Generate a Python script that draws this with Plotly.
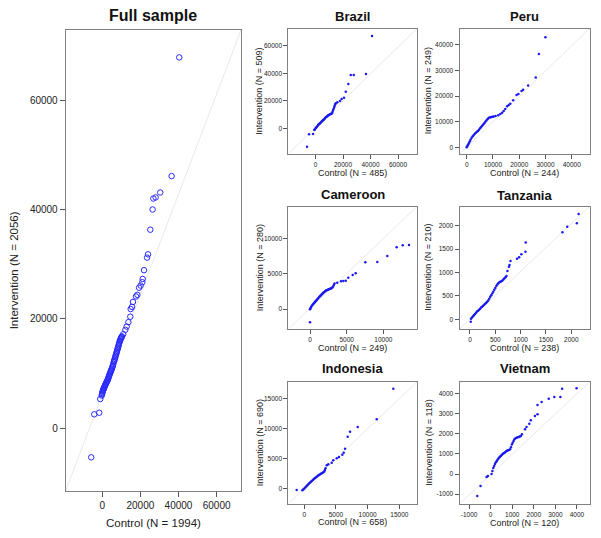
import plotly.graph_objects as go

FONT = "Liberation Sans, Arial, sans-serif"

# ---------------- data (quantile pairs) ----------------
full_ctrl = [-5800, -4200, -1600, -1050,
             -300, -150, 0, 150, 300, 450, 600, 750, 900, 1075, 1250, 1425, 1600,
             1800, 2000, 2200, 2400, 2600, 2800, 3000, 3200, 3400, 3600, 3800, 4000, 4200, 4400,
             4600, 4800, 5000, 5200, 5400, 5600, 5800, 6000, 6200, 6400, 6600, 6800, 7000, 7200,
             7400, 7600, 7800, 8000, 8200, 8400, 8600, 8800, 9000, 9200, 9400, 9600, 9800, 10000,
             10150, 10300,
             11000, 12100, 12800, 13700, 14700, 14900, 15600, 16100, 17700, 18400, 19300, 20100,
             21000, 21200, 21900, 23500, 24000, 25200, 26400, 26800, 28000, 30400, 36400, 40400]
full_int = [-5300, 2560, 2850, 5360,
            6000, 6230, 6450, 6650, 6850, 6980, 7100, 7250, 7400, 7520, 7650, 7800, 7950,
            8100, 8250, 8400, 8550, 8680, 8800, 9000, 9200, 9400, 9600, 9800, 10000, 10170, 10350,
            10520, 10700, 10900, 11100, 11300, 11500, 11800, 12100, 12300, 12500, 12750, 13000, 13250, 13500,
            13720, 13950, 14200, 14450, 14700, 14950, 15200, 15450, 15700, 15950, 16120, 16300, 16450, 16600,
            16700, 16800,
            17200, 18000, 18600, 19400, 20400, 21800, 22200, 23100, 24100, 24400, 25700, 26100,
            26700, 27300, 28900, 31200, 31800, 36300, 40000, 42000, 42200, 43100, 46100, 67800]

brazil_ctrl = [-6200, -4700, -1800, -900,
               -600, 0, 500, 1000, 1500, 2000, 2500, 3000, 3500, 4000, 4500, 5000, 5500, 6000, 6500,
               7000, 7500, 8000, 8500, 9000, 9500, 10000, 10500, 11000, 11500, 12000, 12400, 12800,
               13200, 13600, 14000, 14400, 14800,
               15900, 17800, 19000, 20700, 22000, 23900, 25600, 27800, 36700, 41100]
brazil_int = [-13400, -4400, -4100, -1200,
              -900, 0, 600, 1100, 1700, 2500, 3000, 3500, 3900, 4400, 5000, 5400, 5800, 6300, 6800,
              7500, 8000, 8400, 8800, 9300, 9500, 9800, 10100, 10400, 10600, 11000, 12000, 13200,
              14200, 15400, 16600, 17600, 18200,
              18900, 19800, 21300, 22200, 26600, 32200, 38700, 38700, 39400, 67000]

peru_ctrl = [0, 150, 350, 600, 900, 1200, 1500, 1900, 2300, 2700, 3100, 3500, 3900, 4300, 4700,
             5100, 5500, 5900, 6300, 6700, 7100, 7500, 7900, 8300, 8700, 9100, 9500, 9900, 10300,
             11000, 12000, 12800, 13500, 14100, 14700, 15400, 16000, 16600, 17700, 19000, 19700,
             20900, 21500, 23400, 26300, 27500, 30000]
peru_int = [0, 300, 700, 1200, 1800, 2400, 3000, 3700, 4300, 4800, 5300, 5700, 6100, 6400, 6900,
            7400, 7900, 8400, 8900, 9400, 10000, 10500, 11000, 11400, 11600, 11750, 11850, 11950, 12000,
            12200, 12500, 13000, 13500, 14200, 15000, 16000, 16500, 17000, 18400, 20400, 20800,
            22000, 22500, 24100, 27300, 36400, 43000]

cameroon_ctrl = [0,
                 0, 60, 150, 250, 350, 450, 550, 650, 750, 850, 950, 1050, 1150, 1250, 1350, 1450,
                 1550, 1650, 1750, 1850, 1950, 2050, 2150, 2250, 2350, 2450, 2550, 2650, 2750, 2850,
                 2950, 3050, 3150, 3250, 3350,
                 3720, 4230, 4540, 4870, 5220, 5820, 6230, 7540, 9180, 10540, 11820, 12640, 13500]
cameroon_int = [-1880,
                -50, 100, 300, 450, 600, 720, 840, 960, 1080, 1200, 1320, 1440, 1560, 1680, 1800, 1920,
                2020, 2120, 2220, 2320, 2420, 2500, 2580, 2650, 2700, 2740, 2780, 2820, 2860, 2900,
                2960, 3050, 3200, 3400, 3600,
                3720, 3920, 3960, 3980, 4430, 4810, 5050, 6600, 6650, 7500, 8730, 9010, 9050]

tanzania_ctrl = [15,
                 20, 40, 60, 80, 100, 120, 140, 160, 180, 200, 220, 240, 260, 280, 300, 320, 340,
                 360, 380, 400, 420, 440, 460, 480, 500, 520, 540, 560, 580, 600, 620, 640, 660, 680, 700,
                 720, 740, 770, 780, 800, 930, 970, 1015, 1095, 1100, 1825, 1920, 2110, 2145]
tanzania_int = [-50,
                10, 40, 65, 90, 115, 140, 165, 185, 205, 225, 250, 270, 290, 310, 335, 355, 375,
                400, 440, 480, 515, 550, 590, 630, 670, 710, 745, 770, 790, 800, 815, 830, 850, 875, 900,
                925, 1030, 1125, 1160, 1245, 1295, 1325, 1390, 1445, 1640, 1860, 1980, 2050, 2250]

indonesia_ctrl = [-1200,
                  -300, -150, 0, 150, 300, 450, 600, 750, 900, 1050, 1200, 1350, 1500, 1650, 1800,
                  1950, 2100, 2250, 2400, 2550, 2700, 2850, 3000, 3150, 3250, 3350,
                  3540, 3790, 4330, 4580, 5120, 5480, 6000, 6220, 6430, 6850, 7220, 8430, 11430, 14050]
indonesia_int = [-220,
                 -250, -100, 50, 200, 350, 520, 700, 850, 1000, 1150, 1300, 1450, 1600, 1750, 1880,
                 2000, 2120, 2230, 2330, 2430, 2530, 2620, 2720, 2850, 3100, 3400,
                 3900, 4070, 4330, 4730, 5070, 5280, 5670, 6000, 6670, 8670, 9500, 10280, 11570, 16670]

vietnam_ctrl = [-620, -470, -190, -130,
                40, 80, 120, 160, 200, 240, 280, 320, 360, 400, 440, 480, 520, 560, 600, 640, 680,
                720, 760, 800, 850, 900, 940, 980, 1020, 1060, 1100, 1150, 1200, 1250, 1300, 1350,
                1400, 1450,
                1590, 1660, 1790, 1860, 2050, 2170, 2170, 2360, 2690, 2950, 3230, 3310, 3980]
vietnam_int = [-1100, -600, -150, -100,
               0, 150, 300, 400, 500, 590, 650, 710, 770, 820, 870, 910, 960, 1000, 1030, 1060, 1100,
               1130, 1160, 1180, 1200, 1240, 1330, 1470, 1560, 1650, 1730, 1780, 1810, 1830, 1850,
               1870, 1900, 1980,
               2230, 2340, 2510, 2680, 2890, 2980, 3440, 3590, 3750, 3840, 3840, 4250, 4270]

titles = ["Full sample", "Brazil", "Peru", "Cameroon", "Tanzania", "Indonesia", "Vietnam"]
n_ctrl = [1994, 485, 244, 249, 238, 658, 120]
n_int = [2056, 509, 249, 280, 210, 690, 118]
ctrl_data = [full_ctrl, brazil_ctrl, peru_ctrl, cameroon_ctrl, tanzania_ctrl, indonesia_ctrl, vietnam_ctrl]
int_data = [full_int, brazil_int, peru_int, cameroon_int, tanzania_int, indonesia_int, vietnam_int]
x_ticks = [[0, 20000, 40000, 60000], [0, 20000, 40000, 60000], [0, 10000, 20000, 30000, 40000],
           [0, 5000, 10000], [0, 500, 1000, 1500, 2000], [0, 5000, 10000, 15000],
           [-1000, 0, 1000, 2000, 3000, 4000]]
y_ticks = [[0, 20000, 40000, 60000], [0, 20000, 40000, 60000], [0, 10000, 20000, 30000, 40000],
           [0, 5000, 10000], [0, 500, 1000, 1500, 2000], [0, 5000, 10000, 15000],
           [-1000, 0, 1000, 2000, 3000, 4000]]
x_ranges = [[-19200, 72800], [-19800, 73800], [-2740, 46780], [-2960, 14590],
            [-207, 2360], [-2526, 17790], [-1445, 4580]]
y_ranges = [[-11400, 72800], [-18700, 72500], [-2620, 46400], [-2830, 14500],
            [-207, 2410], [-2500, 17780], [-1480, 4586]]

# ---------------- layout geometry (pixels) ----------------
W, H = 601, 538
# (left, right, top, bottom) of each plot box
boxes = [(65.7, 241, 30, 490.7),
         (288.3, 417, 28.5, 154), (459.5, 589.5, 28.5, 154),
         (288.3, 417, 206.5, 329), (459.5, 589.5, 206.5, 329),
         (288.3, 417, 382, 503.7), (459.5, 589.5, 382, 503.7)]
title_y = [16, 16.7, 16.7, 194.5, 195.5, 368.5, 368.5]
xtitle_y = [523.3, 173.3, 173.3, 348.3, 348.3, 522.3, 522.7]
ytitle_x = [14, 259.5, 428, 259.5, 428, 259.5, 429]

fig = go.Figure()
layout = dict(width=W, height=H, margin=dict(l=0, r=0, t=0, b=0),
              plot_bgcolor="white", paper_bgcolor="white", showlegend=False,
              font=dict(family=FONT, color="#222"))
annotations = []

for i in range(7):
    k = "" if i == 0 else str(i + 1)
    l, r, t, b = boxes[i]
    big = i == 0
    tick_size = 10 if big else 6.5
    axis_common = dict(showgrid=False, zeroline=False, showline=True, mirror=True,
                       linecolor="#808080", linewidth=1, ticks="outside",
                       ticklen=5 if big else 4, tickcolor="#555", tickwidth=1,
                       tickfont=dict(size=tick_size, family=FONT, color="#222"))
    layout["xaxis" + k] = dict(axis_common, domain=[l / W, r / W], range=x_ranges[i],
                               tickmode="array", tickvals=x_ticks[i],
                               ticktext=[str(v) for v in x_ticks[i]], anchor="y" + k)
    layout["yaxis" + k] = dict(axis_common, domain=[1 - b / H, 1 - t / H], range=y_ranges[i],
                               tickmode="array", tickvals=y_ticks[i],
                               ticktext=[str(v) for v in y_ticks[i]], anchor="x" + k)
    # reference line across the panel diagonal
    fig.add_trace(go.Scatter(x=x_ranges[i], y=y_ranges[i], mode="lines",
                             line=dict(color="#e9e9e9", width=1),
                             xaxis="x" + k, yaxis="y" + k, hoverinfo="skip"))
    if big:
        marker = dict(symbol="circle-open", size=5.5, color="#2a2aff", line=dict(width=1))
    else:
        marker = dict(symbol="circle", size=2.5, color="#1a1aee")
    fig.add_trace(go.Scatter(x=ctrl_data[i], y=int_data[i], mode="markers", marker=marker,
                             xaxis="x" + k, yaxis="y" + k, hoverinfo="skip"))
    cx = (l + r) / 2
    cy = (t + b) / 2
    annotations.append(dict(text="<b>%s</b>" % titles[i], x=cx / W, y=1 - title_y[i] / H,
                            xref="paper", yref="paper", showarrow=False,
                            xanchor="center", yanchor="middle",
                            font=dict(size=16 if big else 13, family=FONT, color="#111")))
    annotations.append(dict(text="Control (N = %d)" % n_ctrl[i], x=cx / W, y=1 - xtitle_y[i] / H,
                            xref="paper", yref="paper", showarrow=False,
                            xanchor="center", yanchor="middle",
                            font=dict(size=11.5 if big else 9, family=FONT, color="#222")))
    annotations.append(dict(text="Intervention (N = %d)" % n_int[i], x=ytitle_x[i] / W,
                            y=1 - (cy + (10 if big else 0)) / H,
                            xref="paper", yref="paper", showarrow=False, textangle=-90,
                            xanchor="center", yanchor="middle",
                            font=dict(size=11.5 if big else 9, family=FONT, color="#222")))

layout["annotations"] = annotations
fig.update_layout(**layout)
fig.write_html("out.html", config={"displayModeBar": False},
               post_script="document.body.style.margin='0';")
